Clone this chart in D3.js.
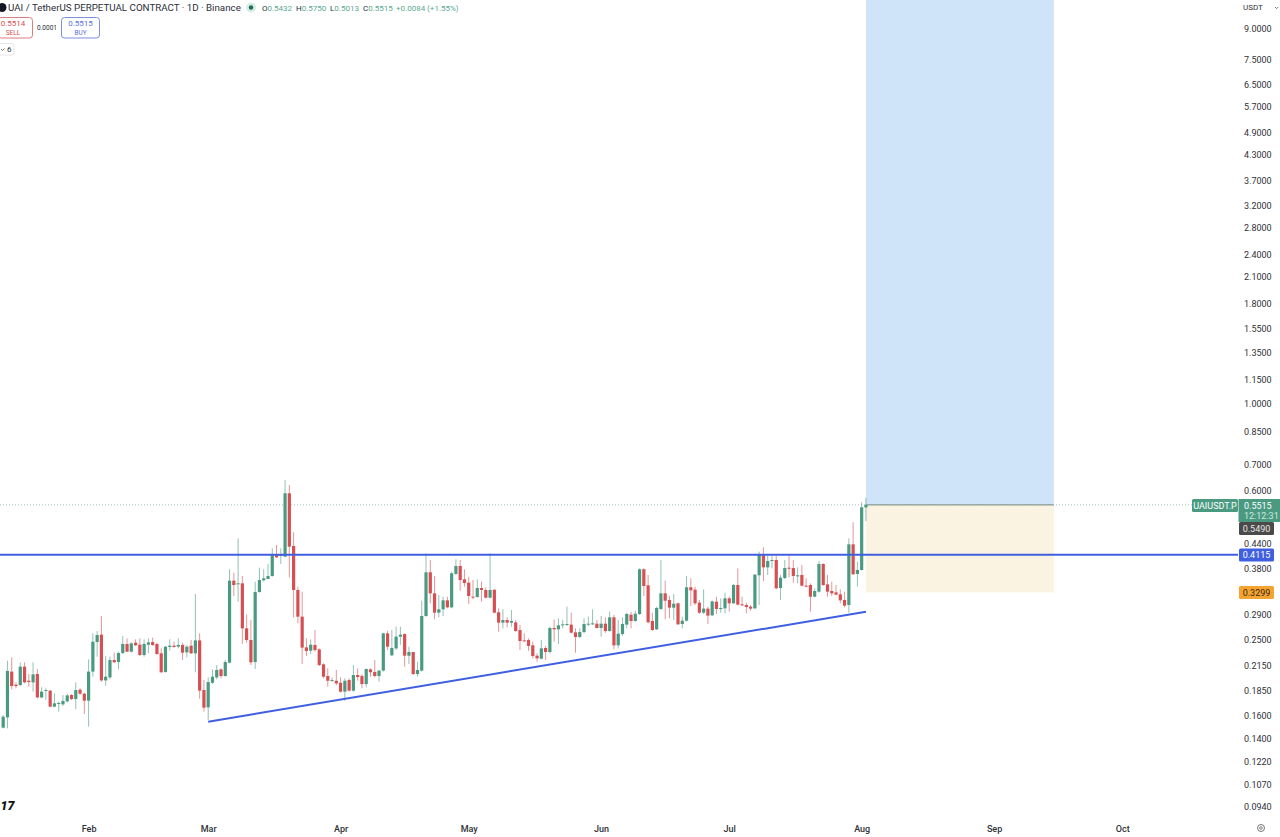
<!DOCTYPE html>
<html><head><meta charset="utf-8">
<style>
html,body{margin:0;padding:0;background:#fff}
svg{display:block}
text{font-family:Roboto,"Liberation Sans",sans-serif}
</style>
<script src="https://cdn.jsdelivr.net/npm/d3@7"></script>
</head><body><svg id="c" width="1280" height="837"></svg>
<script>
const firstDay = Date.UTC(2025,0,12);
const opens = [.1492,.1585,.2073,.1920,.1916,.2134,.1965,.1946,.2044,.1782,
.1854,.1854,.1688,.1717,.1711,.1741,.1807,.1765,.1865,.1821,
.1748,.2073,.2466,.2575,.1969,.2004,.2219,.2193,.2312,.2438,
.2330,.2457,.2428,.2285,.2428,.2466,.2438,.2308,.2069,.2395,
.2414,.2400,.2424,.2321,.2414,.2308,.2490,.1861,.1681,.1942,
.2004,.2101,.2020,.2185,.3535,.3460,.3480,.2672,.2495,.2193,
.3308,.3542,.3570,.3633,.4110,.4086,.4070,.5903,.4333,.3347,
.2862,.2390,.2344,.2424,.2362,.2164,.2020,.1965,.1965,.1942,
.1843,.1973,.1854,.2032,.2020,.1927,.2101,.2069,.2020,.2085,
.2595,.2281,.2376,.2545,.2585,.2276,.2326,.2044,.2085,.2873,
.3713,.3282,.2930,.2988,.3150,.3023,.3677,.3853,.3563,.3494,
.3218,.3212,.3386,.3347,.3199,.3354,.2936,.2763,.2806,.2763,
.2768,.2646,.2490,.2495,.2419,.2276,.2236,.2381,.2326,.2678,
.2657,.2720,.2731,.2731,.2610,.2540,.2615,.2736,.2741,.2746,
.2678,.2746,.2631,.2851,.2419,.2585,.2731,.2895,.2790,.2907,
.3780,.3440,.2790,.2657,.2994,.3282,.3156,.3017,.3095,.2741,
.2795,.3400,.3354,.3107,.2930,.3000,.2884,.3125,.3000,.3005,
.3187,.3095,.3446,.3077,.3065,.3035,.3005,.3648,.4110,.3822,
.3967,.3991,.3386,.3591,.3815,.3807,.3633,.3655,.3433,.3446,
.3218,.3314,.3899,.3460,.3327,.3301,.3263,.3156,.3065,.4375,
.3677,.3764,.5432];
const highs = [.1607,.2210,.2254,.1946,.2189,.2189,.2044,.2189,.2105,.1891,
.1880,.1861,.1825,.1738,.1807,.1818,.1818,.1946,.1880,.1832,
.2228,.2595,.2631,.2873,.2272,.2263,.2317,.2330,.2555,.2520,
.2461,.2505,.2520,.2505,.2520,.2530,.2457,.2376,.2410,.2505,
.2471,.2520,.2457,.2424,.2495,.3269,.2595,.1973,.2004,.2101,
.2155,.2113,.2219,.3780,.3706,.4532,.3633,.2901,.2806,.3514,
.3815,.3780,.3899,.4274,.4358,.4274,.6383,.6198,.4695,.3413,
.3314,.2520,.2505,.2646,.2376,.2176,.2113,.2004,.2093,.2004,
.1993,.1993,.2155,.2113,.2044,.2113,.2113,.2219,.2093,.2605,
.2636,.2646,.2699,.2699,.2595,.2400,.2326,.2197,.3143,.4150,
.3991,.3633,.3250,.3218,.3218,.3727,.4007,.3991,.3780,.3619,
.3549,.3563,.3514,.3400,.4150,.3354,.3005,.2988,.2851,.2976,
.2806,.2725,.2595,.2520,.2471,.2308,.2495,.2410,.2699,.2817,
.2834,.2806,.3035,.2930,.2672,.2672,.2834,.2862,.2988,.2806,
.2873,.2851,.2947,.2890,.2806,.2851,.2930,.2947,.2964,.3800,
.3800,.3655,.2930,.3035,.3991,.3535,.3231,.3269,.3107,.2862,
.3633,.3584,.3413,.3156,.3360,.3035,.3143,.3218,.3187,.3295,
.3218,.3467,.3800,.3218,.3107,.3065,.3677,.4191,.4299,.4094,
.4094,.4094,.3655,.3991,.4086,.3991,.3822,.3876,.3584,.3480,
.3380,.3967,.3914,.3655,.3514,.3446,.3360,.3314,.4532,.4980,
.3952,.5600,.5750];
const lows = [.1486,.1486,.1868,.1880,.1905,.1935,.1898,.1843,.1772,.1772,
.1755,.1681,.1681,.1639,.1694,.1728,.1755,.1662,.1807,.1617,
.1501,.2012,.2263,.1954,.1909,.1981,.2185,.2101,.2299,.2326,
.2321,.2410,.2272,.2263,.2308,.2410,.2285,.2060,.2060,.2344,
.2386,.2376,.2219,.2254,.2299,.2065,.1769,.1639,.1561,.1927,
.1981,.1993,.2012,.2176,.3231,.3125,.2438,.2457,.2155,.2105,
.3295,.3514,.3563,.3619,.4038,.3899,.4054,.3605,.2851,.2752,
.2168,.2272,.2299,.2330,.2142,.1993,.1898,.1954,.1916,.1832,
.1748,.1843,.1843,.1965,.1880,.1891,.2012,.2004,.1954,.2073,
.2353,.2272,.2353,.2424,.2134,.2168,.2032,.2012,.2073,.2862,
.3095,.2817,.2851,.2873,.3005,.3005,.3655,.3334,.3413,.3083,
.3169,.3199,.3125,.3187,.3187,.2918,.2620,.2672,.2688,.2699,
.2620,.2353,.2471,.2344,.2241,.2197,.2228,.2219,.2308,.2471,
.2438,.2672,.2710,.2595,.2317,.2525,.2595,.2710,.2725,.2672,
.2545,.2605,.2620,.2362,.2376,.2555,.2672,.2672,.2779,.2890,
.3231,.2752,.2636,.2646,.2976,.2817,.2834,.2806,.2725,.2672,
.2779,.3047,.3065,.2907,.2907,.2741,.2873,.2907,.2930,.2918,
.2947,.3083,.3059,.3047,.2918,.2964,.2988,.3065,.3528,.3655,
.3800,.3360,.3156,.3563,.3605,.3494,.3480,.3413,.3400,.2947,
.3206,.3295,.3427,.3218,.3231,.3244,.3095,.3023,.2930,.3655,
.3413,.3750,.5013];
const closes = [.1591,.2081,.1905,.1905,.2134,.1946,.1950,.2040,.1782,.1843,
.1861,.1688,.1721,.1724,.1745,.1803,.1765,.1861,.1821,.1748,
.2073,.2471,.2570,.1969,.2012,.2219,.2189,.2312,.2438,.2330,
.2447,.2419,.2285,.2438,.2461,.2424,.2299,.2065,.2400,.2414,
.2395,.2424,.2317,.2400,.2308,.2490,.1854,.1678,.1950,.2012,
.2093,.2020,.2193,.3535,.3446,.3480,.2672,.2495,.2189,.3308,
.3549,.3584,.3633,.4110,.4054,.4110,.5903,.4316,.3347,.2862,
.2386,.2339,.2428,.2353,.2155,.2012,.1965,.1973,.1935,.1843,
.1965,.1854,.2032,.2008,.1927,.2105,.2065,.2020,.2085,.2595,
.2400,.2381,.2545,.2575,.2276,.2326,.2044,.2093,.2873,.3713,
.3282,.2930,.2988,.3150,.3023,.3691,.3853,.3549,.3487,.3231,
.3199,.3386,.3347,.3199,.3347,.2930,.2763,.2806,.2763,.2790,
.2631,.2481,.2481,.2410,.2272,.2241,.2376,.2326,.2678,.2657,
.2720,.2736,.2741,.2605,.2540,.2615,.2741,.2746,.2752,.2678,
.2746,.2631,.2851,.2419,.2590,.2741,.2907,.2790,.2912,.3780,
.3427,.2768,.2646,.3011,.3282,.3143,.3017,.3089,.2736,.2795,
.3400,.3341,.3095,.2930,.3000,.2879,.3131,.2994,.3011,.3187,
.3095,.3446,.3071,.3059,.3029,.3000,.3662,.4110,.3822,.3967,
.3991,.3380,.3598,.3807,.3792,.3633,.3648,.3433,.3413,.3218,
.3327,.3899,.3446,.3314,.3282,.3256,.3150,.3053,.4375,.3670,
.3764,.5437,.5515];
const priceTicks = [9,7.5,6.5,5.7,4.9,4.3,3.7,3.2,2.8,2.4,2.1,1.8,1.55,1.35,1.15,1,0.85,0.7,0.6,0.44,0.38,0.29,0.25,0.215,0.185,0.16,0.14,0.122,0.107,0.094];
const monthTicks = [[2025,1],[2025,2],[2025,3],[2025,4],[2025,5],[2025,6],[2025,7],[2025,8],[2025,9]];
const levelPrice = 0.4115, lastPrice = 0.5515, markPrice = 0.5490, stopPrice = 0.3299, targetPrice = 10.7;
const trendPrices = [0.1545, 0.2945];
const trendDates = [Date.UTC(2025,2,1), Date.UTC(2025,7,2)];
const positionDates = [Date.UTC(2025,7,2), Date.UTC(2025,8,15)];

const UP="#4a9a82", DOWN="#d64f52", BLUE="#3f5fe0";
const svg=d3.select("#c");
const y=d3.scaleLog().domain([9,0.094]).range([29,806.4]);
const x=d3.scaleUtc().domain([Date.UTC(2025,1,1),Date.UTC(2025,9,1)]).range([88.6,1122.2]);
const days=opens.map((_,i)=>firstDay+i*864e5);

// position tool
svg.append("rect").attr("x",x(positionDates[0])).attr("width",x(positionDates[1])-x(positionDates[0]))
  .attr("y",y(targetPrice)).attr("height",y(lastPrice)-y(targetPrice)).attr("fill","#cfe4f9");
svg.append("rect").attr("x",x(positionDates[0])).attr("width",x(positionDates[1])-x(positionDates[0]))
  .attr("y",y(lastPrice)).attr("height",y(stopPrice)-y(lastPrice)).attr("fill","#fbf3e2");
svg.append("line").attr("x1",x(positionDates[0])).attr("x2",x(positionDates[1])).attr("y1",y(lastPrice)).attr("y2",y(lastPrice)).attr("stroke","#6f7f78").attr("stroke-width",1);

// last price dotted
svg.append("line").attr("x1",0).attr("x2",1192).attr("y1",y(lastPrice)).attr("y2",y(lastPrice))
  .attr("stroke","#9fbfb4").attr("stroke-width",1).attr("stroke-dasharray","1 2");

// candles
const g=svg.append("g");
g.selectAll("line.w").data(days).join("line").attr("class","w")
  .attr("x1",d=>x(d)).attr("x2",d=>x(d))
  .attr("y1",(d,i)=>y(highs[i])).attr("y2",(d,i)=>y(lows[i]))
  .attr("stroke",(d,i)=>closes[i]>=opens[i]?UP:DOWN).attr("stroke-width",1).attr("stroke-opacity",.6);
g.selectAll("rect.b").data(days).join("rect").attr("class","b")
  .attr("x",d=>x(d)-1.6).attr("width",3.2)
  .attr("y",(d,i)=>y(Math.max(opens[i],closes[i])))
  .attr("height",(d,i)=>Math.max(1,y(Math.min(opens[i],closes[i]))-y(Math.max(opens[i],closes[i]))))
  .attr("fill",(d,i)=>closes[i]>=opens[i]?UP:DOWN);

// drawings
svg.append("line").attr("x1",0).attr("x2",1238).attr("y1",y(levelPrice)).attr("y2",y(levelPrice)).attr("stroke",BLUE).attr("stroke-width",1.8);
svg.append("line").attr("x1",x(trendDates[0])).attr("x2",x(trendDates[1])).attr("y1",y(trendPrices[0])).attr("y2",y(trendPrices[1])).attr("stroke",BLUE).attr("stroke-width",2);

// axes
const ay=svg.append("g").attr("transform","translate(1243,0)")
  .call(d3.axisRight(y).tickValues(priceTicks).tickFormat(d3.format(".4f")).tickSize(0).tickPadding(1));
ay.select(".domain").remove();
ay.selectAll("text").attr("font-size",9).attr("fill","#2f3238").attr("font-family","Roboto");
const ax=svg.append("g").attr("transform","translate(0,825.5)")
  .call(d3.axisBottom(x).tickValues(monthTicks.map(m=>Date.UTC(m[0],m[1],1))).tickFormat(d3.utcFormat("%b")).tickSize(0).tickPadding(0));
ax.select(".domain").remove();
ax.selectAll("text").attr("font-size",9).attr("fill","#2f3238").attr("font-weight",500);

function tag(x0,y0,w,h,fill,txt,col,tx){
  svg.append("rect").attr("x",x0).attr("y",y0).attr("width",w).attr("height",h).attr("rx",1.5).attr("fill",fill);
  svg.append("text").attr("x",tx===undefined?x0+w/2:tx).attr("y",y0+h/2+3.2).attr("text-anchor",tx===undefined?"middle":"start").attr("font-size",9).attr("fill",col).text(txt);
}
tag(1192,499,46,13,UP,"UAIUSDT.P","#fff");
svg.append("rect").attr("x",1238.5).attr("y",499).attr("width",41.5).attr("height",23).attr("fill",UP);
svg.append("text").attr("x",1244).attr("y",509).attr("font-size",9).attr("fill","#fff").text(d3.format(".4f")(lastPrice));
svg.append("text").attr("x",1244).attr("y",519).attr("font-size",9).attr("fill","#cfe8df").text("12:12:31");
tag(1239,522,35,13,"#4a4a4a",d3.format(".4f")(markPrice),"#e8e8e8");
tag(1239,548.5,35,13,BLUE,d3.format(".4f")(levelPrice),"#fff");
tag(1239,586,35,13,"#f5a431",d3.format(".4f")(stopPrice),"#3a2a10");

// USDT unit
svg.append("text").attr("x",1243).attr("y",10).attr("font-size",8).attr("fill","#2f3238").text("USDT");
svg.append("path").attr("d","M1275 7l1.6 1.6 1.6-1.6").attr("fill","none").attr("stroke","#555").attr("stroke-width",.8);

// header
svg.append("circle").attr("cx",2).attr("cy",7.5).attr("r",4.5).attr("fill","#131722");
svg.append("text").attr("x",8).attr("y",11).attr("font-size",9.75).attr("fill","#2a2e39").text("UAI / TetherUS PERPETUAL CONTRACT · 1D · Binance");
svg.append("circle").attr("cx",251).attr("cy",7.5).attr("r",5).attr("fill","#d8ece6");
svg.append("circle").attr("cx",251).attr("cy",7.5).attr("r",2.2).attr("fill","#1f6b57");
const ohlc=[["O","0.5432",262],["H","0.5750",296],["L","0.5013",330],["C","0.5515",363]];
ohlc.forEach(o=>{
  const t=svg.append("text").attr("x",o[2]).attr("y",10.5).attr("font-size",8).attr("fill","#2a2e39").text(o[0]);
  t.append("tspan").attr("fill","#5aa893").text(o[1]);
});
svg.append("text").attr("x",396).attr("y",10.5).attr("font-size",8).attr("fill","#5aa893").text("+0.0084 (+1.55%)");

svg.append("rect").attr("x",-2).attr("y",17.5).attr("width",34.5).attr("height",20.5).attr("rx",3).attr("fill","#fff").attr("stroke","#dc7d80");
svg.append("text").attr("x",13).attr("y",26).attr("text-anchor","middle").attr("font-size",8).attr("fill","#d64f52").text("0.5514");
svg.append("text").attr("x",13).attr("y",35).attr("text-anchor","middle").attr("font-size",6.5).attr("fill","#d64f52").text("SELL");
svg.append("text").attr("x",47).attr("y",30).attr("text-anchor","middle").attr("font-size",6.5).attr("fill","#2a2e39").text("0.0001");
svg.append("rect").attr("x",61.5).attr("y",17.5).attr("width",38).attr("height",20.5).attr("rx",3).attr("fill","#fff").attr("stroke","#7f8fe0");
svg.append("text").attr("x",80.5).attr("y",26).attr("text-anchor","middle").attr("font-size",8).attr("fill","#5a6fd8").text("0.5515");
svg.append("text").attr("x",80.5).attr("y",35).attr("text-anchor","middle").attr("font-size",6.5).attr("fill","#5a6fd8").text("BUY");

svg.append("rect").attr("x",-2).attr("y",43.5).attr("width",16).attr("height",11.5).attr("rx",2).attr("fill","#fff").attr("stroke","#e6e6e6");
svg.append("path").attr("d","M1 49l1.5 1.5 2-2").attr("fill","none").attr("stroke","#555").attr("stroke-width",.8);
svg.append("text").attr("x",7).attr("y",52).attr("font-size",8).attr("fill","#2a2e39").text("6");

// watermark fragment
svg.append("text").attr("x",0.5).attr("y",810).attr("font-size",12.5).attr("font-weight",900).attr("fill","#111").attr("font-family","DejaVu Sans").attr("font-style","italic").text("17");

// settings glyph
svg.append("circle").attr("cx",1261).attr("cy",828).attr("r",3.5).attr("fill","none").attr("stroke","#555").attr("stroke-width",.8);
svg.append("circle").attr("cx",1261).attr("cy",828).attr("r",1.3).attr("fill","none").attr("stroke","#555").attr("stroke-width",.7);
</script></body></html>
